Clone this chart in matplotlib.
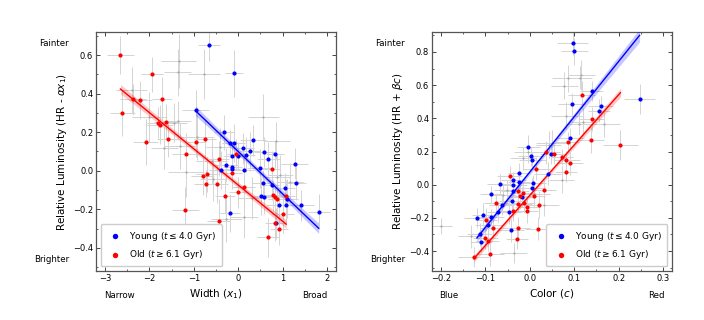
import numpy as np
import matplotlib
matplotlib.use('Agg')
import matplotlib.pyplot as plt
from matplotlib.ticker import MultipleLocator

# ---- left panel: width (x1) ----
young_x1 = [-0.65, -0.09, -0.96, -0.32, -0.19, -0.09, -0.15, -0.28, -0.13, -0.13, 0.10, 0.18,
            0.26, 0.33, 0.00, 0.12, -0.39, 0.58, 0.82, 0.68, 0.48, 1.27, 1.30, 0.56, 0.75, 0.52,
            0.58, 1.05, 0.92, 1.07, 1.10, 1.41, 1.81, -0.19, 0.85]
young_hr1 = [0.652, 0.505, 0.317, 0.200, 0.144, 0.144, 0.077, 0.030, 0.020, 0.011, 0.116, 0.083,
             0.100, 0.159, 0.078, 0.006, 0.003, 0.097, 0.085, 0.061, 0.013, 0.037, -0.063, -0.065,
             -0.073, -0.130, -0.135, -0.090, -0.175, -0.180, -0.144, -0.178, -0.212, -0.220, -0.273]
young_x1_err = [0.25, 0.20, 0.30, 0.22, 0.18, 0.25, 0.20, 0.28, 0.22, 0.18, 0.25, 0.20, 0.22, 0.30,
                0.18, 0.24, 0.26, 0.22, 0.20, 0.25, 0.28, 0.30, 0.22, 0.25, 0.20, 0.24, 0.26, 0.22,
                0.28, 0.20, 0.25, 0.30, 0.25, 0.22, 0.20]
young_hr1_err = [0.08, 0.12, 0.10, 0.09, 0.07, 0.10, 0.08, 0.09, 0.11, 0.07, 0.08, 0.09, 0.10, 0.08,
                 0.07, 0.09, 0.10, 0.08, 0.07, 0.09, 0.10, 0.08, 0.09, 0.07, 0.08, 0.10, 0.09, 0.08,
                 0.07, 0.09, 0.10, 0.08, 0.09, 0.10, 0.08]

old_x1 = [-2.65, -2.61, -1.94, -2.37, -2.20, -1.72, -1.62, -1.81, -1.76, -1.58, -2.08, -0.94,
          -0.74, -1.18, -0.43, -0.05, -0.80, -0.70, -0.14, -0.72, -0.47, -0.30, 0.00, 0.12, 0.75,
          0.78, 0.83, 0.88, 1.08, 1.00, 0.82, 0.91, 0.67, -0.44, -1.19]
old_hr1 = [0.600, 0.300, 0.500, 0.371, 0.367, 0.374, 0.254, 0.250, 0.240, 0.164, 0.151, 0.151,
           0.166, 0.087, 0.063, 0.087, -0.028, -0.018, -0.013, -0.068, -0.068, -0.130, -0.111,
           -0.085, 0.011, -0.128, -0.138, -0.145, -0.130, -0.223, -0.272, -0.303, -0.345, -0.259,
           -0.203]
old_x1_err = [0.30, 0.28, 0.25, 0.30, 0.26, 0.22, 0.28, 0.25, 0.30, 0.24, 0.28, 0.22, 0.25, 0.30,
              0.22, 0.20, 0.26, 0.24, 0.22, 0.28, 0.25, 0.22, 0.20, 0.26, 0.22, 0.20, 0.24, 0.22,
              0.20, 0.25, 0.22, 0.20, 0.24, 0.26, 0.30]
old_hr1_err = [0.10, 0.12, 0.09, 0.08, 0.10, 0.11, 0.09, 0.08, 0.10, 0.09, 0.12, 0.08, 0.10, 0.11,
               0.09, 0.08, 0.10, 0.09, 0.08, 0.07, 0.10, 0.09, 0.08, 0.10, 0.09, 0.08, 0.07, 0.09,
               0.08, 0.10, 0.09, 0.08, 0.10, 0.11, 0.12]

mid_x1 = [-2.40, -1.34, -1.36, -0.77, -1.36, -0.92, -1.66, -1.31, -0.40, -1.18, -0.57, 0.56,
          0.86, 0.88, 1.16, -0.27, 0.13, -1.45, -0.60, 0.30, 0.95, -2.00]
mid_hr1 = [0.42, 0.57, 0.51, 0.50, 0.26, 0.175, 0.118, 0.127, 0.124, -0.006, -0.045, 0.28,
           0.155, -0.03, -0.06, -0.25, -0.24, 0.25, 0.05, -0.14, -0.02, 0.28]
mid_x1_err = [0.35, 0.40, 0.30, 0.35, 0.30, 0.38, 0.30, 0.35, 0.32, 0.40, 0.30, 0.35, 0.30, 0.28,
              0.30, 0.35, 0.32, 0.30, 0.35, 0.30, 0.28, 0.40]
mid_hr1_err = [0.12, 0.14, 0.12, 0.13, 0.10, 0.12, 0.11, 0.12, 0.10, 0.13, 0.11, 0.12, 0.10, 0.11,
               0.10, 0.12, 0.11, 0.10, 0.12, 0.11, 0.10, 0.13]

# fits: slope, intercept, sigma slope, sigma intercept
fit_young_x1 = (-0.220, 0.100, 0.015, 0.016)
fit_old_x1 = (-0.188, -0.074, 0.010, 0.014)

# ---- right panel: color (c) ----
young_c = [0.097, 0.100, 0.139, 0.094, 0.160, 0.156, 0.247, 0.091, -0.003, 0.002, 0.006, 0.048,
           0.040, -0.024, -0.037, -0.037, -0.024, -0.068, 0.007, 0.004, -0.037, -0.039, -0.087,
           -0.063, -0.047, -0.071, -0.088, -0.119, -0.105, -0.093, -0.113, -0.109, -0.043, -0.018]
young_hr2 = [0.852, 0.804, 0.566, 0.484, 0.472, 0.446, 0.516, 0.282, 0.228, 0.170, 0.146, 0.182,
             0.066, 0.070, 0.026, 0.000, 0.014, 0.002, 0.010, -0.020, -0.040, -0.096, -0.058,
             -0.124, -0.166, -0.166, -0.194, -0.200, -0.180, -0.242, -0.300, -0.346, -0.274, -0.072]
young_c_err = [0.035, 0.030, 0.025, 0.030, 0.028, 0.025, 0.035, 0.030, 0.025, 0.028, 0.030, 0.025,
               0.030, 0.025, 0.028, 0.030, 0.025, 0.028, 0.030, 0.025, 0.028, 0.030, 0.025, 0.028,
               0.030, 0.025, 0.030, 0.028, 0.025, 0.030, 0.028, 0.025, 0.030, 0.028]
young_hr2_err = [0.07, 0.08, 0.06, 0.07, 0.06, 0.07, 0.09, 0.06, 0.07, 0.06, 0.05, 0.06, 0.07,
                 0.06, 0.05, 0.06, 0.07, 0.06, 0.05, 0.06, 0.07, 0.06, 0.05, 0.06, 0.07, 0.06,
                 0.05, 0.06, 0.07, 0.06, 0.07, 0.06, 0.07, 0.06]

old_c = [0.117, 0.139, 0.137, 0.204, 0.085, 0.037, 0.054, 0.073, 0.082, 0.091, 0.082, 0.015,
         0.032, 0.009, 0.020, -0.045, -0.026, -0.016, -0.023, -0.014, -0.026, -0.006, -0.006,
         -0.038, -0.027, -0.028, 0.019, -0.076, -0.099, -0.082, -0.100, -0.095, -0.089, -0.126]
old_hr2 = [0.542, 0.396, 0.270, 0.240, 0.258, 0.194, 0.182, 0.168, 0.146, 0.128, 0.074, 0.096,
           -0.030, -0.070, -0.120, 0.050, -0.038, -0.048, -0.070, -0.108, -0.116, -0.134, -0.160,
           -0.160, -0.262, -0.326, -0.266, -0.108, -0.210, -0.262, -0.320, -0.340, -0.420, -0.436]
old_c_err = [0.030, 0.028, 0.030, 0.040, 0.025, 0.030, 0.028, 0.025, 0.030, 0.028, 0.025, 0.030,
             0.028, 0.025, 0.030, 0.028, 0.025, 0.030, 0.028, 0.025, 0.030, 0.028, 0.025, 0.030,
             0.028, 0.025, 0.030, 0.028, 0.025, 0.030, 0.028, 0.025, 0.030, 0.035]
old_hr2_err = [0.08, 0.07, 0.08, 0.09, 0.06, 0.07, 0.06, 0.05, 0.06, 0.07, 0.06, 0.07, 0.06, 0.07,
               0.08, 0.06, 0.05, 0.06, 0.07, 0.06, 0.05, 0.06, 0.07, 0.06, 0.07, 0.06, 0.07, 0.06,
               0.07, 0.06, 0.07, 0.06, 0.07, 0.06]

mid_c = [-0.200, 0.086, 0.116, 0.112, 0.078, 0.082, 0.110, 0.167, -0.015, 0.072, -0.036, 0.031,
         -0.051, 0.043, -0.132, 0.010, -0.060, 0.120, -0.005, 0.050]
mid_hr2 = [-0.250, 0.640, 0.660, 0.644, 0.596, 0.416, 0.368, 0.368, 0.160, 0.030, -0.410, -0.120,
           -0.032, 0.242, -0.312, -0.056, -0.060, 0.380, 0.200, 0.250]
mid_c_err = [0.025, 0.035, 0.030, 0.028, 0.030, 0.035, 0.030, 0.035, 0.030, 0.028, 0.030, 0.035,
             0.030, 0.028, 0.030, 0.035, 0.030, 0.028, 0.030, 0.035]
mid_hr2_err = [0.05, 0.08, 0.09, 0.07, 0.08, 0.08, 0.07, 0.08, 0.07, 0.08, 0.06, 0.07, 0.06, 0.08,
               0.07, 0.06, 0.07, 0.08, 0.07, 0.08]

fit_young_c = (3.335, 0.076, 0.15, 0.015)
fit_old_c = (3.03, -0.064, 0.12, 0.012)

label_young = r'Young ($t \leq 4.0$ Gyr)'
label_old = r'Old ($t \geq 6.1$ Gyr)'

ERR_COLOR = '#d4d4d4'
BLUE = '#0000ff'
RED = '#ff0000'

plt.rcParams['mathtext.fontset'] = 'dejavusans'


def draw_fit(ax, x, fit, color):
    x = np.asarray(x)
    xs = np.linspace(x.min(), x.max(), 50)
    m, b, sm, sb = fit
    ys = m * xs + b
    band = np.sqrt(sb ** 2 + (sm * (xs - x.mean())) ** 2)
    ax.fill_between(xs, ys - band, ys + band, color=color, alpha=0.22, lw=0, zorder=3)
    ax.plot(xs, ys, color=color, lw=1.0, zorder=4)


def draw_panel(ax, groups, fits):
    for x, y, xe, ye, color, ms, lab in groups:
        ax.errorbar(x, y, xerr=xe, yerr=ye, fmt='none', ecolor=ERR_COLOR, elinewidth=0.7, zorder=1)
    for (x, y, xe, ye, color, ms, lab) in groups:
        if lab is None:
            ax.plot(x, y, 'o', color=color, ms=ms, mew=0, zorder=2)
    for (x, y, xe, ye, color, ms, lab), fit in zip([g for g in groups if g[6] is not None], fits):
        draw_fit(ax, x, fit, color)
    for x, y, xe, ye, color, ms, lab in groups:
        if lab is not None:
            ax.scatter(x, y, s=ms ** 2, color=color, lw=0, zorder=5, label=lab)
    ax.tick_params(which='both', direction='in', top=True, right=True, labelsize=6,
                   color='#444444', pad=2)
    ax.tick_params(which='major', length=3, width=0.7)
    ax.tick_params(which='minor', length=1.6, width=0.6)
    for s in ax.spines.values():
        s.set_color('#555555')
        s.set_linewidth(0.9)


fig = plt.figure(figsize=(7.04, 3.2), dpi=100)
ax1 = fig.add_axes([96 / 704, 49 / 320, 240 / 704, 239 / 320])
ax2 = fig.add_axes([432 / 704, 49 / 320, 240 / 704, 239 / 320])

draw_panel(ax1,
           [(mid_x1, mid_hr1, mid_x1_err, mid_hr1_err, '#a8a8a8', 1.6, None),
            (young_x1, young_hr1, young_x1_err, young_hr1_err, BLUE, 3.0, label_young),
            (old_x1, old_hr1, old_x1_err, old_hr1_err, RED, 3.0, label_old)],
           [fit_young_x1, fit_old_x1])
ax1.set_xlim(-3.2, 2.2)
ax1.set_ylim(-0.52, 0.72)
ax1.xaxis.set_major_locator(MultipleLocator(1))
ax1.xaxis.set_minor_locator(MultipleLocator(0.5))
ax1.yaxis.set_major_locator(MultipleLocator(0.2))
ax1.yaxis.set_minor_locator(MultipleLocator(0.1))
ax1.set_xlabel(r'Width ($x_1$)', fontsize=7.5, labelpad=3)
ax1.set_ylabel(r'Relative Luminosity (HR - $\alpha x_1$)', fontsize=7.5, labelpad=3)
ax1.legend(loc='lower left', fontsize=6.5, markerscale=1.3, handletextpad=0.6,
           borderpad=0.6, labelspacing=0.6, edgecolor='#cccccc', framealpha=1)

draw_panel(ax2,
           [(mid_c, mid_hr2, mid_c_err, mid_hr2_err, '#a8a8a8', 1.6, None),
            (young_c, young_hr2, young_c_err, young_hr2_err, BLUE, 3.0, label_young),
            (old_c, old_hr2, old_c_err, old_hr2_err, RED, 3.0, label_old)],
           [fit_young_c, fit_old_c])
ax2.set_xlim(-0.22, 0.32)
ax2.set_ylim(-0.52, 0.92)
ax2.xaxis.set_major_locator(MultipleLocator(0.1))
ax2.xaxis.set_minor_locator(MultipleLocator(0.05))
ax2.yaxis.set_major_locator(MultipleLocator(0.2))
ax2.yaxis.set_minor_locator(MultipleLocator(0.1))
ax2.set_xlabel(r'Color ($c$)', fontsize=7.5, labelpad=3)
ax2.set_ylabel(r'Relative Luminosity (HR + $\beta c$)', fontsize=7.5, labelpad=3)
ax2.legend(loc='lower right', fontsize=6.5, markerscale=1.3, handletextpad=0.6,
           borderpad=0.6, labelspacing=0.6, edgecolor='#cccccc', framealpha=1)

# side annotations
def ftext(px, py, s):
    fig.text(px / 704, 1 - py / 320, s, fontsize=6.2, ha='center', va='center')

ftext(54, 43, 'Fainter')
ftext(52, 259, 'Brighter')
ftext(119, 296, 'Narrow')
ftext(315, 296, 'Broad')
ftext(390, 43, 'Fainter')
ftext(388, 259, 'Brighter')
ftext(449, 296, 'Blue')
ftext(656, 296, 'Red')

fig.savefig('out.png', dpi=100)
